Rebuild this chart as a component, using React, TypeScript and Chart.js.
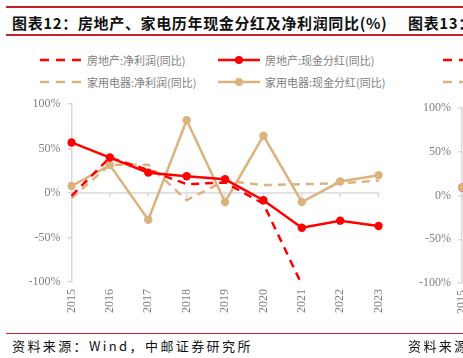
import React, { useEffect, useRef } from 'react';
import { Chart, registerables } from 'chart.js';

Chart.register(...registerables);

// ---------- data ----------
const years = ['2015', '2016', '2017', '2018', '2019', '2020', '2021', '2022', '2023'];
const reNetProfit = [-3, 40, 26, 10, 12, -12, -103, null, null]; // 房地产:净利润(同比)
const reDividend = [57, 40, 23, 19, 15.5, -8, -39, -31, -37]; // 房地产:现金分红(同比)
const heNetProfit = [-6, 32, 32, -8, 14, 9, 10, 11, 14]; // 家用电器:净利润(同比)
const heDividend = [8, 31.5, -30, 82, -10, 64.5, -10, 13, 20]; // 家用电器:现金分红(同比)
const yTicks = [100, 50, 0, -50, -100];

// partially visible neighbouring chart (图表13)
const nextYears = ['2015', '2016'];
const nextRed = [9, null];
const nextTan = [9, null];

const legendNames = ['房地产:净利润(同比)', '房地产:现金分红(同比)', '家用电器:净利润(同比)', '家用电器:现金分红(同比)'];

const RED = '#ff0000';
const TAN = '#dcb37e';
const AXIS = '#d9d9d9';
const LABEL = '#808080';
const RULE = '#c8202a';
const SERIF = '"Liberation Serif", "Times New Roman", serif';
const CJK = '"Noto Sans CJK SC", "Noto Sans", sans-serif';

const zeroLine = {
  id: 'zeroLine',
  beforeDatasetsDraw(chart: any) {
    const { ctx, chartArea, scales } = chart;
    const y0 = scales.y.getPixelForValue(0);
    ctx.save();
    ctx.strokeStyle = AXIS;
    ctx.lineWidth = 1.5;
    ctx.beginPath();
    ctx.moveTo(chartArea.left, y0);
    ctx.lineTo(chartArea.right, y0);
    const n = scales.x.ticks.length;
    for (let i = 0; i < n; i++) {
      const x = scales.x.getPixelForTick(i);
      ctx.moveTo(x, y0);
      ctx.lineTo(x, y0 + 4);
    }
    ctx.stroke();
    ctx.restore();
  },
};

function makeOptions(yWidth: number, xHeight: number, padTop: number, padRight: number) {
  return {
    responsive: false,
    animation: false as const,
    layout: { padding: { top: padTop, right: padRight, left: 0, bottom: 0 } },
    plugins: { legend: { display: false }, tooltip: { enabled: false } },
    scales: {
      x: {
        type: 'category' as const,
        offset: false,
        grid: { display: false, drawTicks: false },
        border: { display: false },
        ticks: {
          maxRotation: 90,
          minRotation: 90,
          padding: 7,
          color: LABEL,
          font: { family: SERIF, size: 12 },
          autoSkip: false,
        },
        afterFit: (s: any) => {
          s.height = xHeight;
        },
      },
      y: {
        min: -100,
        max: 100,
        afterBuildTicks: (s: any) => {
          s.ticks = yTicks.map((v) => ({ value: v }));
        },
        grid: { drawOnChartArea: false, drawTicks: true, tickLength: 4, tickColor: AXIS, lineWidth: 1.5 },
        border: { display: true, color: AXIS, width: 1.5 },
        ticks: {
          padding: 7,
          color: LABEL,
          font: { family: SERIF, size: 12 },
          callback: (v: any) => v + '%',
        },
        afterFit: (s: any) => {
          s.width = yWidth;
        },
      },
    },
  };
}

function lineDs(label: string, data: (number | null)[], color: string, dashed: boolean, order: number) {
  return {
    label,
    data,
    borderColor: color,
    backgroundColor: color,
    borderWidth: 2.5,
    borderDash: dashed ? [8, 6] : [],
    pointRadius: dashed ? 0 : 4.2,
    pointHoverRadius: 0,
    pointBackgroundColor: color,
    pointBorderColor: color,
    pointBorderWidth: 0,
    tension: 0,
    spanGaps: false,
    order,
  };
}

function MainChart() {
  const ref = useRef<HTMLCanvasElement | null>(null);
  useEffect(() => {
    if (!ref.current) return;
    const chart = new Chart(ref.current, {
      type: 'line',
      data: {
        labels: years,
        datasets: [
          lineDs(legendNames[0], reNetProfit, RED, true, 1),
          lineDs(legendNames[1], reDividend, RED, false, 0),
          lineDs(legendNames[2], heNetProfit, TAN, true, 3),
          lineDs(legendNames[3], heDividend, TAN, false, 2),
        ],
      },
      options: makeOptions(71.5, 43, 11, 15) as any,
      plugins: [zeroLine],
    });
    return () => chart.destroy();
  }, []);
  return <canvas ref={ref} width={400} height={235} style={{ position: 'absolute', left: 0, top: 90 }} />;
}

function NextChart() {
  const ref = useRef<HTMLCanvasElement | null>(null);
  useEffect(() => {
    if (!ref.current) return;
    const chart = new Chart(ref.current, {
      type: 'line',
      data: {
        labels: nextYears,
        datasets: [
          lineDs('next-red', nextRed, RED, false, 1),
          lineDs('next-tan', nextTan, TAN, false, 0),
        ],
      },
      options: makeOptions(72, 42, 18, 20) as any,
      plugins: [zeroLine],
    });
    return () => chart.destroy();
  }, []);
  return <canvas ref={ref} width={200} height={235} style={{ position: 'absolute', left: 390, top: 90 }} />;
}

function LegendSample({ x, y, color, dashed }: { x: number; y: number; color: string; dashed: boolean }) {
  return (
    <svg style={{ position: 'absolute', left: x, top: y - 6 }} width={44} height={12}>
      <line
        x1={0}
        y1={6}
        x2={42}
        y2={6}
        stroke={color}
        strokeWidth={2.5}
        strokeDasharray={dashed ? '9 7' : undefined}
      />
      {!dashed && <circle cx={21} cy={6} r={4} fill={color} />}
    </svg>
  );
}

export default function App() {
  const legendText: React.CSSProperties = {
    position: 'absolute',
    fontFamily: CJK,
    fontSize: 11,
    color: LABEL,
    lineHeight: '14px',
    whiteSpace: 'nowrap',
  };
  const footer: React.CSSProperties = {
    position: 'absolute',
    top: 337,
    fontFamily: CJK,
    fontSize: 13,
    lineHeight: '17px',
    letterSpacing: 2.4,
    color: '#111',
    whiteSpace: 'nowrap',
  };
  const title: React.CSSProperties = {
    position: 'absolute',
    top: 13,
    fontFamily: CJK,
    fontWeight: 700,
    fontSize: 15,
    lineHeight: '19px',
    letterSpacing: 0.65,
    color: '#111',
    whiteSpace: 'nowrap',
  };
  return (
    <div
      style={{
        position: 'fixed',
        left: 0,
        top: 0,
        width: 463,
        height: 358,
        overflow: 'hidden',
        background: '#fff',
      }}
    >
      {/* rules */}
      <div style={{ position: 'absolute', left: 6, top: 6, width: 460, height: 1.5, background: RULE }} />
      <div style={{ position: 'absolute', left: 6, top: 34, width: 460, height: 1.5, background: RULE }} />
      <div style={{ position: 'absolute', left: 6, top: 332.5, width: 460, height: 1.5, background: RULE }} />

      {/* titles */}
      <div style={{ ...title, left: 12 }}>图表12：房地产、家电历年现金分红及净利润同比(%)</div>
      <div style={{ ...title, left: 408 }}>图表13：</div>

      {/* legend */}
      <LegendSample x={40} y={59.5} color={RED} dashed />
      <div style={{ ...legendText, left: 87, top: 52.5 }}>{legendNames[0]}</div>
      <LegendSample x={218} y={59.5} color={RED} dashed={false} />
      <div style={{ ...legendText, left: 265, top: 52.5 }}>{legendNames[1]}</div>
      <LegendSample x={40} y={81.5} color={TAN} dashed />
      <div style={{ ...legendText, left: 87, top: 74.5 }}>{legendNames[2]}</div>
      <LegendSample x={218} y={81.5} color={TAN} dashed={false} />
      <div style={{ ...legendText, left: 265, top: 74.5 }}>{legendNames[3]}</div>
      <LegendSample x={443} y={59.5} color={RED} dashed />
      <LegendSample x={443} y={81.5} color={TAN} dashed />

      <MainChart />
      <NextChart />

      {/* sources */}
      <div style={{ ...footer, left: 12 }}>资料来源：Wind，中邮证券研究所</div>
      <div style={{ ...footer, left: 408 }}>资料来源</div>
    </div>
  );
}
